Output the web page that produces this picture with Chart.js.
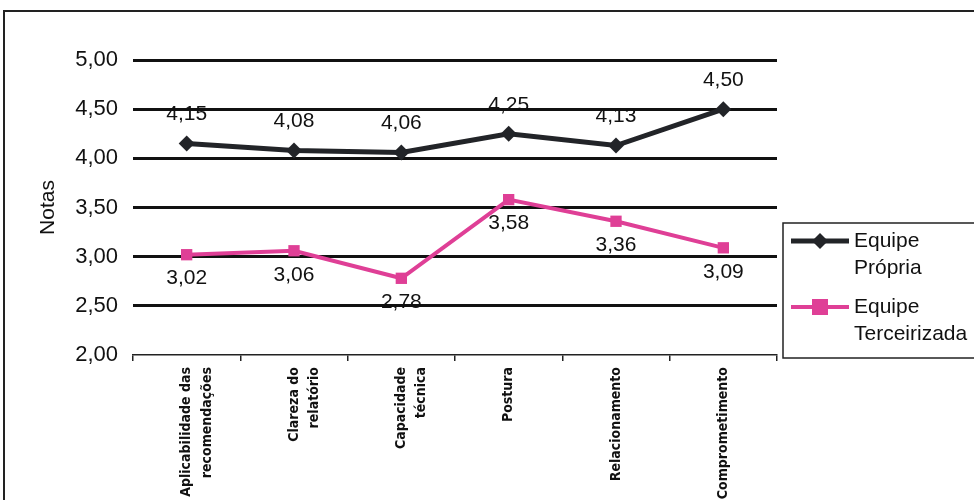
<!DOCTYPE html>
<html>
<head>
<meta charset="utf-8">
<script src="https://cdn.jsdelivr.net/npm/chart.js"></script>
<style>
  html, body { margin: 0; padding: 0; background: #fff; overflow: hidden; }
  #wrap { position: relative; width: 974px; height: 500px; overflow: hidden; }
  #frame { position: absolute; left: 3px; top: 10px; width: 1000px; height: 600px; border: 2px solid #222; box-sizing: border-box; }
  canvas { position: absolute; left: 0; top: 0; }
</style>
</head>
<body>
<div id="wrap">
  <div id="frame"></div>
  <canvas id="notas" width="974" height="520"></canvas>
</div>
<script>
// categorias e notas
const categorias = [
    ["Aplicabilidade das", "recomendações"],
    ["Clareza do", "relatório"],
    ["Capacidade", "técnica"],
    "Postura",
    "Relacionamento",
    "Comprometimento"
];
const equipePropria = [4.15, 4.08, 4.06, 4.25, 4.13, 4.50];
const equipeTerceirizada = [3.02, 3.06, 2.78, 3.58, 3.36, 3.09];
const nomesSeries = [["Equipe", "Própria"], ["Equipe", "Terceirizada"]];

const fmt = v => v.toFixed(2).replace(".", ",");
const FONT = "'Liberation Sans', Arial, sans-serif";

// rótulos de valor (acima da linha escura, abaixo da rosa)
const valueLabels = {
    id: "valueLabels",
    afterDatasetsDraw(chart) {
        const ctx = chart.ctx;
        ctx.save();
        ctx.font = "21px " + FONT;
        ctx.fillStyle = "#111";
        ctx.textAlign = "center";
        ctx.textBaseline = "middle";
        chart.data.datasets.forEach((ds, i) => {
            const meta = chart.getDatasetMeta(i);
            const off = i === 0 ? -29 : 24;
            meta.data.forEach((pt, j) => {
                ctx.fillText(fmt(ds.data[j]), pt.x, pt.y + off);
            });
        });
        ctx.restore();
    }
};

// legenda em caixa, no estilo do Excel
const boxLegend = {
    id: "boxLegend",
    afterDraw(chart) {
        const ctx = chart.ctx;
        const x0 = 783, y0 = 223;
        ctx.save();
        ctx.strokeStyle = "#222";
        ctx.lineWidth = 1.5;
        ctx.strokeRect(x0, y0, 220, 135);
        ctx.font = "21px " + FONT;
        ctx.textBaseline = "middle";
        ctx.textAlign = "left";
        chart.data.datasets.forEach((ds, i) => {
            const y = y0 + 18 + i * 66;
            ctx.strokeStyle = ds.borderColor;
            ctx.lineWidth = ds.borderWidth;
            ctx.beginPath();
            ctx.moveTo(x0 + 8, y);
            ctx.lineTo(x0 + 66, y);
            ctx.stroke();
            ctx.fillStyle = ds.pointBackgroundColor;
            const cx = x0 + 37;
            if (i === 0) {
                ctx.beginPath();
                ctx.moveTo(cx, y - 8);
                ctx.lineTo(cx + 8, y);
                ctx.lineTo(cx, y + 8);
                ctx.lineTo(cx - 8, y);
                ctx.closePath();
                ctx.fill();
            } else {
                ctx.fillRect(cx - 8, y - 8, 16, 16);
            }
            ctx.fillStyle = "#111";
            nomesSeries[i].forEach((t, k) => ctx.fillText(t, x0 + 71, y + k * 27));
        });
        ctx.restore();
    }
};

new Chart(document.getElementById("notas").getContext("2d"), {
    type: "line",
    data: {
        labels: categorias,
        datasets: [{
            label: "Equipe Própria",
            data: equipePropria,
            borderColor: "#222428",
            backgroundColor: "#222428",
            pointBackgroundColor: "#222428",
            borderWidth: 5,
            pointStyle: "rectRot",
            pointRadius: 8,
            pointBorderWidth: 0,
            tension: 0
        }, {
            label: "Equipe Terceirizada",
            data: equipeTerceirizada,
            borderColor: "#df3f96",
            backgroundColor: "#df3f96",
            pointBackgroundColor: "#df3f96",
            borderWidth: 4,
            pointStyle: "rect",
            pointRadius: 8,
            pointBorderWidth: 0,
            tension: 0
        }]
    },
    options: {
        responsive: false,
        animation: false,
        layout: { padding: { top: 60, right: 197, left: 0, bottom: 0 } },
        plugins: {
            legend: { display: false },
            tooltip: { enabled: false }
        },
        scales: {
            x: {
                offset: true,
                afterFit: s => { s.height = 165; },
                grid: {
                    offset: true,
                    drawOnChartArea: false,
                    drawTicks: true,
                    tickLength: 6,
                    color: "#222",
                    lineWidth: 1.5
                },
                border: { display: true, color: "#222", width: 1.5 },
                ticks: {
                    minRotation: 90,
                    maxRotation: 90,
                    autoSkip: false,
                    color: "#111",
                    padding: 6,
                    font: { family: "'DejaVu Sans Condensed', 'DejaVu Sans', sans-serif", size: 14, weight: "bold", lineHeight: 1.45 }
                }
            },
            y: {
                min: 2,
                max: 5,
                afterFit: s => { s.width = 133; },
                grid: {
                    drawTicks: false,
                    color: "#111",
                    lineWidth: c => (c.tick && c.tick.value === 2 ? 0 : 3)
                },
                border: { display: false },
                ticks: {
                    stepSize: 0.5,
                    padding: 15,
                    color: "#111",
                    font: { family: FONT, size: 22 },
                    callback: v => fmt(v)
                },
                title: {
                    display: true,
                    text: "Notas",
                    color: "#111",
                    padding: { top: 36, bottom: 0 },
                    font: { family: FONT, size: 21 }
                }
            }
        }
    },
    plugins: [valueLabels, boxLegend]
});
</script>
</body>
</html>
